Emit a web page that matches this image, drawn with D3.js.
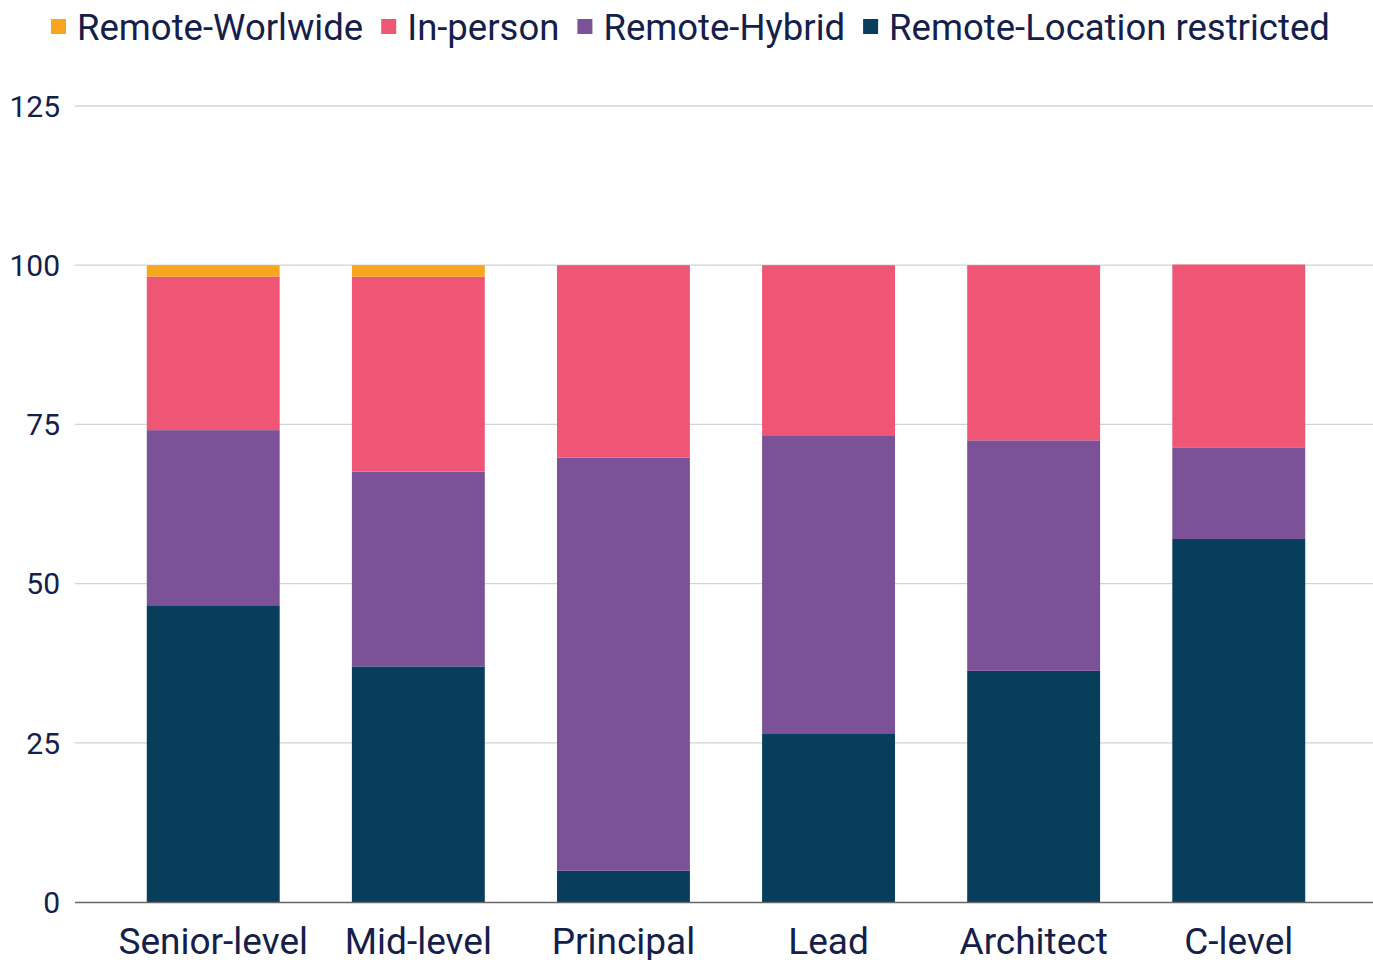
<!DOCTYPE html>
<html>
<head>
<meta charset="utf-8">
<script src="https://cdn.jsdelivr.net/npm/d3@7"></script>
<style>
  body { margin: 0; background: #fff; }
  text { font-family: Roboto, sans-serif; fill: #14204a; }
</style>
</head>
<body>
<svg id="chart" width="1373" height="960"></svg>
<script>
// chart data
const categories = ["Senior-level", "Mid-level", "Principal", "Lead", "Architect", "C-level"];
const seriesNames = ["Remote-Location restricted", "Remote-Hybrid", "In-person", "Remote-Worlwide"];
const locationRestricted = [46.6, 37.0, 4.9, 26.5, 36.3, 57.0];
const hybrid = [27.5, 30.6, 64.9, 46.8, 36.2, 14.4];
const inPerson = [24.1, 30.6, 30.2, 26.7, 27.5, 28.7];
const worldwide = [1.8, 1.8, 0, 0, 0, 0];
const yTicks = [0, 25, 50, 75, 100, 125];
const legendOrder = ["Remote-Worlwide", "In-person", "Remote-Hybrid", "Remote-Location restricted"];

const colors = {
  "Remote-Location restricted": "#073e5b",
  "Remote-Hybrid": "#7b5297",
  "In-person": "#ef5675",
  "Remote-Worlwide": "#f9a61f"
};

const rows = categories.map((c, i) => ({
  category: c,
  "Remote-Location restricted": locationRestricted[i],
  "Remote-Hybrid": hybrid[i],
  "In-person": inPerson[i],
  "Remote-Worlwide": worldwide[i]
}));

const svg = d3.select("#chart");
const plotLeft = 75;
const width = 1373;

const x = d3.scaleBand()
  .domain(categories)
  .range([75, 1377])
  .paddingInner(0.352)
  .paddingOuter(0.35);

const y = d3.scaleLinear()
  .domain([0, 125])
  .range([902, 106]);

// grid
svg.append("g")
  .selectAll("line")
  .data(yTicks.filter(d => d > 0))
  .join("line")
  .attr("x1", plotLeft)
  .attr("x2", width)
  .attr("y1", d => y(d))
  .attr("y2", d => y(d))
  .attr("stroke", "#d3d3d3")
  .attr("stroke-width", 1.3);

// y tick labels
svg.append("g")
  .selectAll("text")
  .data(yTicks)
  .join("text")
  .attr("x", 60)
  .attr("y", d => y(d))
  .attr("dy", "0.36em")
  .attr("text-anchor", "end")
  .style("font-size", "30px")
  .text(d => d);

// stacked bars
const stack = d3.stack().keys(seriesNames)(rows);

svg.append("g")
  .selectAll("g")
  .data(stack)
  .join("g")
  .attr("fill", d => colors[d.key])
  .selectAll("rect")
  .data(d => d)
  .join("rect")
  .attr("x", d => x(d.data.category))
  .attr("width", x.bandwidth())
  .attr("y", d => y(d[1]))
  .attr("height", d => y(d[0]) - y(d[1]));

// baseline
svg.append("line")
  .attr("x1", plotLeft)
  .attr("x2", width)
  .attr("y1", y(0) + 0.5)
  .attr("y2", y(0) + 0.5)
  .attr("stroke", "#666")
  .attr("stroke-width", 1.5);

// x labels
svg.append("g")
  .selectAll("text")
  .data(categories)
  .join("text")
  .attr("x", d => x(d) + x.bandwidth() / 2)
  .attr("y", 954)
  .attr("text-anchor", "middle")
  .style("font-size", "37px")
  .text(d => d);

// legend
const legend = svg.append("g");
let lx = 51;
legendOrder.forEach(name => {
  legend.append("rect")
    .attr("x", lx)
    .attr("y", 19)
    .attr("width", 15)
    .attr("height", 15)
    .attr("fill", colors[name]);
  const t = legend.append("text")
    .attr("x", lx + 26)
    .attr("y", 27)
    .attr("dy", "0.36em")
    .style("font-size", "36.5px")
    .text(name);
  lx += 26 + t.node().getComputedTextLength() + 18;
});
</script>
</body>
</html>
